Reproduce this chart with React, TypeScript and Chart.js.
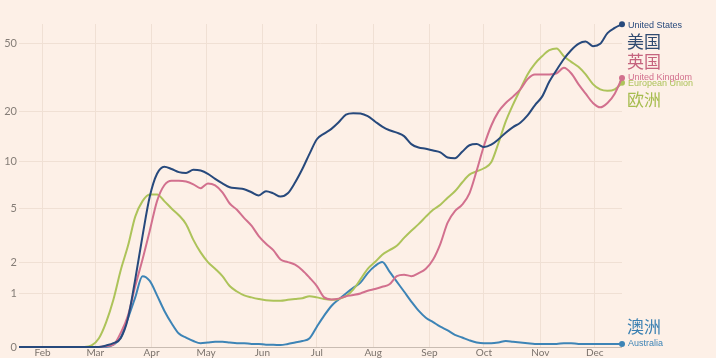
import React, { useEffect, useRef } from "react";
import { Chart, registerables } from "chart.js";

Chart.register(...registerables);

// Day of year (2020), sampled every 4 days from 19 Jan to 16 Dec
const days = [
  19, 23, 27, 31, 35, 39, 43, 47, 51, 55, 59, 63, 67, 71, 75, 79, 83, 87, 91, 95,
  99, 103, 107, 111, 115, 119, 123, 127, 131, 135, 139, 143, 147, 151, 155, 159, 163, 167, 171, 175,
  179, 183, 187, 191, 195, 199, 203, 207, 211, 215, 219, 223, 227, 231, 235, 239, 243, 247, 251, 255,
  259, 263, 267, 271, 275, 279, 283, 287, 291, 295, 299, 303, 307, 311, 315, 319, 323, 327, 331, 335,
  339, 343, 347, 351,
];

const unitedStates = [
  0, 0, 0, 0, 0, 0, 0, 0, 0, 0, 0, 0,
  0.02, 0.05, 0.12, 0.45, 1.4, 3.2, 6.0, 8.4, 9.3, 9.0,
  8.6, 8.5, 8.9, 8.8, 8.4, 7.8, 7.3, 6.9, 6.8, 6.7,
  6.4, 6.1, 6.5, 6.3, 6.0, 6.3, 7.4, 9.0, 11.2, 13.7,
  14.8, 15.8, 17.3, 19.2, 19.6, 19.5, 18.8, 17.5, 16.3, 15.5,
  15.0, 14.3, 12.8, 12.2, 12.0, 11.7, 11.4, 10.6, 10.5, 11.5,
  12.6, 12.8, 12.3, 12.7, 13.7, 15.0, 16.2, 17.2, 19.0, 21.8,
  24.5, 30, 35, 40.5, 45.5, 49.5, 51, 48, 49.5, 57,
  61, 64,
];

const unitedKingdom = [
  0, 0, 0, 0, 0, 0, 0, 0, 0, 0, 0, 0,
  0.01, 0.03, 0.2, 0.5, 1.2, 2.1, 3.5, 5.6, 7.1, 7.6,
  7.6, 7.5, 7.2, 6.8, 7.3, 7.1, 6.4, 5.4, 4.9, 4.3,
  3.8, 3.2, 2.8, 2.5, 2.1, 2.0, 1.9, 1.7, 1.45, 1.2,
  0.9, 0.85, 0.87, 0.93, 0.96, 1.0, 1.07, 1.12, 1.18, 1.25,
  1.5, 1.55, 1.5, 1.6, 1.75, 2.1, 2.8, 4.0, 4.8, 5.3,
  6.3, 8.8, 12.5, 16.5, 20.0, 22.5, 24.5, 27, 31, 33,
  33, 33, 33.5, 36, 33.5, 29, 25.5, 22.5, 21.2, 22.5,
  25.5, 31.5,
];

const europeanUnion = [
  0, 0, 0, 0, 0, 0, 0, 0, 0, 0,
  0.02, 0.12, 0.38, 0.85, 1.7, 2.7, 4.4, 5.6, 6.2, 6.2,
  5.6, 5.0, 4.5, 3.9, 3.0, 2.4, 2.0, 1.75, 1.5, 1.2,
  1.05, 0.95, 0.9, 0.86, 0.83, 0.82, 0.82, 0.84, 0.86, 0.88,
  0.93, 0.9, 0.86, 0.84, 0.86, 0.93, 1.1, 1.4, 1.75, 2.0,
  2.3, 2.5, 2.7, 3.1, 3.5, 3.9, 4.4, 4.9, 5.3, 5.9,
  6.5, 7.4, 8.3, 8.7, 9.1, 9.9, 13, 17.5, 22, 27,
  33, 38, 42, 45.5, 46.5, 42, 39, 36.5, 33, 29,
  27, 26.5, 27, 29.5,
];

const australia = [
  0, 0, 0, 0, 0, 0, 0, 0, 0, 0, 0, 0, 0,
  0.03, 0.13, 0.45, 0.9, 1.5, 1.35, 0.95, 0.6, 0.36, 0.19,
  0.13, 0.08, 0.05, 0.06, 0.07, 0.07, 0.06, 0.05, 0.05, 0.04,
  0.04, 0.03, 0.03, 0.025, 0.04, 0.06, 0.08, 0.12, 0.3, 0.5,
  0.7, 0.85, 1.0, 1.15, 1.3, 1.6, 1.85, 2.0, 1.65, 1.33,
  1.05, 0.8, 0.6, 0.46, 0.38, 0.3, 0.24, 0.17, 0.13, 0.09,
  0.06, 0.05, 0.05, 0.06, 0.08, 0.07, 0.06, 0.05, 0.04, 0.04,
  0.04, 0.04, 0.05, 0.05, 0.04, 0.04, 0.04, 0.04, 0.04, 0.04,
  0.04,
];

const yTickValues = [0, 1, 2, 5, 10, 20, 50];
const monthStartDays = [32, 61, 92, 122, 153, 183, 214, 245, 275, 306, 336];
const monthLabels = ["Feb", "Mar", "Apr", "May", "Jun", "Jul", "Aug", "Sep", "Oct", "Nov", "Dec"];

const seriesNamesEn = ["United States", "United Kingdom", "European Union", "Australia"];
const seriesNamesZh = ["美国", "英国", "欧洲", "澳洲"];

const COLORS = ["#27497c", "#d2708e", "#adc35a", "#3d84b6"];
const ZH_COLORS = ["#2f4a70", "#c5647e", "#a6bc4f", "#3b80b2"];
const BG = "#fdf0e7";

// symmetric log-like transform: log10(1 + v)
const toScale = (v: number) => Math.log10(1 + v);

export default function App() {
  const ref = useRef<HTMLCanvasElement>(null);

  useEffect(() => {
    const canvas = ref.current;
    if (!canvas) return;

    const seriesValues = [unitedStates, unitedKingdom, europeanUnion, australia];

    const datasets = seriesValues.map((vals, si) => ({
      label: seriesNamesEn[si],
      data: days.map((d, i) => ({ x: d, y: toScale(vals[i]) })),
      borderColor: COLORS[si],
      backgroundColor: COLORS[si],
      borderWidth: 2,
      pointRadius: days.map((_, i) => (i === days.length - 1 ? 3 : 0)),
      pointBorderWidth: 0,
      pointHoverRadius: 0,
      cubicInterpolationMode: "monotone" as const,
      clip: false as any,
    }));

    const bgPlugin = {
      id: "bg",
      beforeDraw(chart: any) {
        const { ctx, width, height } = chart;
        ctx.save();
        ctx.fillStyle = BG;
        ctx.fillRect(0, 0, width, height);
        ctx.restore();
      },
    };

    // label offsets relative to the final point of each series
    const enDy = [1, 0, 1, 0];
    const zhDy = [17, -16, 17, -17];

    const endLabels = {
      id: "endLabels",
      afterDatasetsDraw(chart: any) {
        const ctx = chart.ctx;
        ctx.save();
        ctx.textBaseline = "middle";
        ctx.textAlign = "left";
        chart.data.datasets.forEach((_: any, si: number) => {
          const meta = chart.getDatasetMeta(si);
          const pt = meta.data[meta.data.length - 1];
          const x = pt.x + 6;
          ctx.font = '9px "Liberation Sans", Arial, sans-serif';
          ctx.fillStyle = COLORS[si];
          ctx.fillText(seriesNamesEn[si], x, pt.y + enDy[si]);
          ctx.font = '17px "Noto Sans CJK SC", sans-serif';
          ctx.fillStyle = ZH_COLORS[si];
          ctx.fillText(seriesNamesZh[si], x - 1, pt.y + zhDy[si]);
        });
        ctx.restore();
      },
    };

    const chart = new Chart(canvas, {
      type: "line",
      data: { datasets: datasets as any },
      options: {
        responsive: false,
        animation: false,
        events: [],
        layout: { padding: { top: 24, right: 94, left: 0, bottom: 0 } },
        plugins: {
          legend: { display: false },
          tooltip: { enabled: false },
        },
        scales: {
          x: {
            type: "linear",
            min: 19,
            max: 351,
            afterBuildTicks: (s: any) => {
              s.ticks = monthStartDays.map((v) => ({ value: v }));
            },
            afterFit: (s: any) => {
              s.height = 11;
            },
            ticks: {
              autoSkip: false,
              maxRotation: 0,
              padding: 0,
              color: "#7a726c",
              font: { family: "Lato, 'Open Sans', sans-serif", size: 10 },
              callback: (_v: any, i: number) => monthLabels[i],
            },
            grid: { color: "#f0e0d4", drawTicks: false, lineWidth: 1 },
            border: { display: false },
          },
          y: {
            type: "linear",
            min: 0,
            max: 1.8146,
            afterBuildTicks: (s: any) => {
              s.ticks = yTickValues.map((v) => ({ value: toScale(v) }));
            },
            afterFit: (s: any) => {
              s.width = 19;
            },
            ticks: {
              padding: 2,
              color: "#857d77",
              font: { family: "Lato, 'Open Sans', sans-serif", size: 11 },
              callback: (_v: any, i: number) => String(yTickValues[i]),
            },
            grid: {
              drawTicks: false,
              lineWidth: 1,
              color: (c: any) => (c.tick && c.tick.value === 0 ? "#c9bcb2" : "#f0e0d4"),
            },
            border: { display: false },
          },
        },
      },
      plugins: [bgPlugin, endLabels],
    });

    return () => chart.destroy();
  }, []);

  return (
    <div style={{ position: "absolute", left: 0, top: 0, width: 716, height: 358, background: BG }}>
      <canvas ref={ref} width={716} height={358} style={{ display: "block" }} />
    </div>
  );
}
